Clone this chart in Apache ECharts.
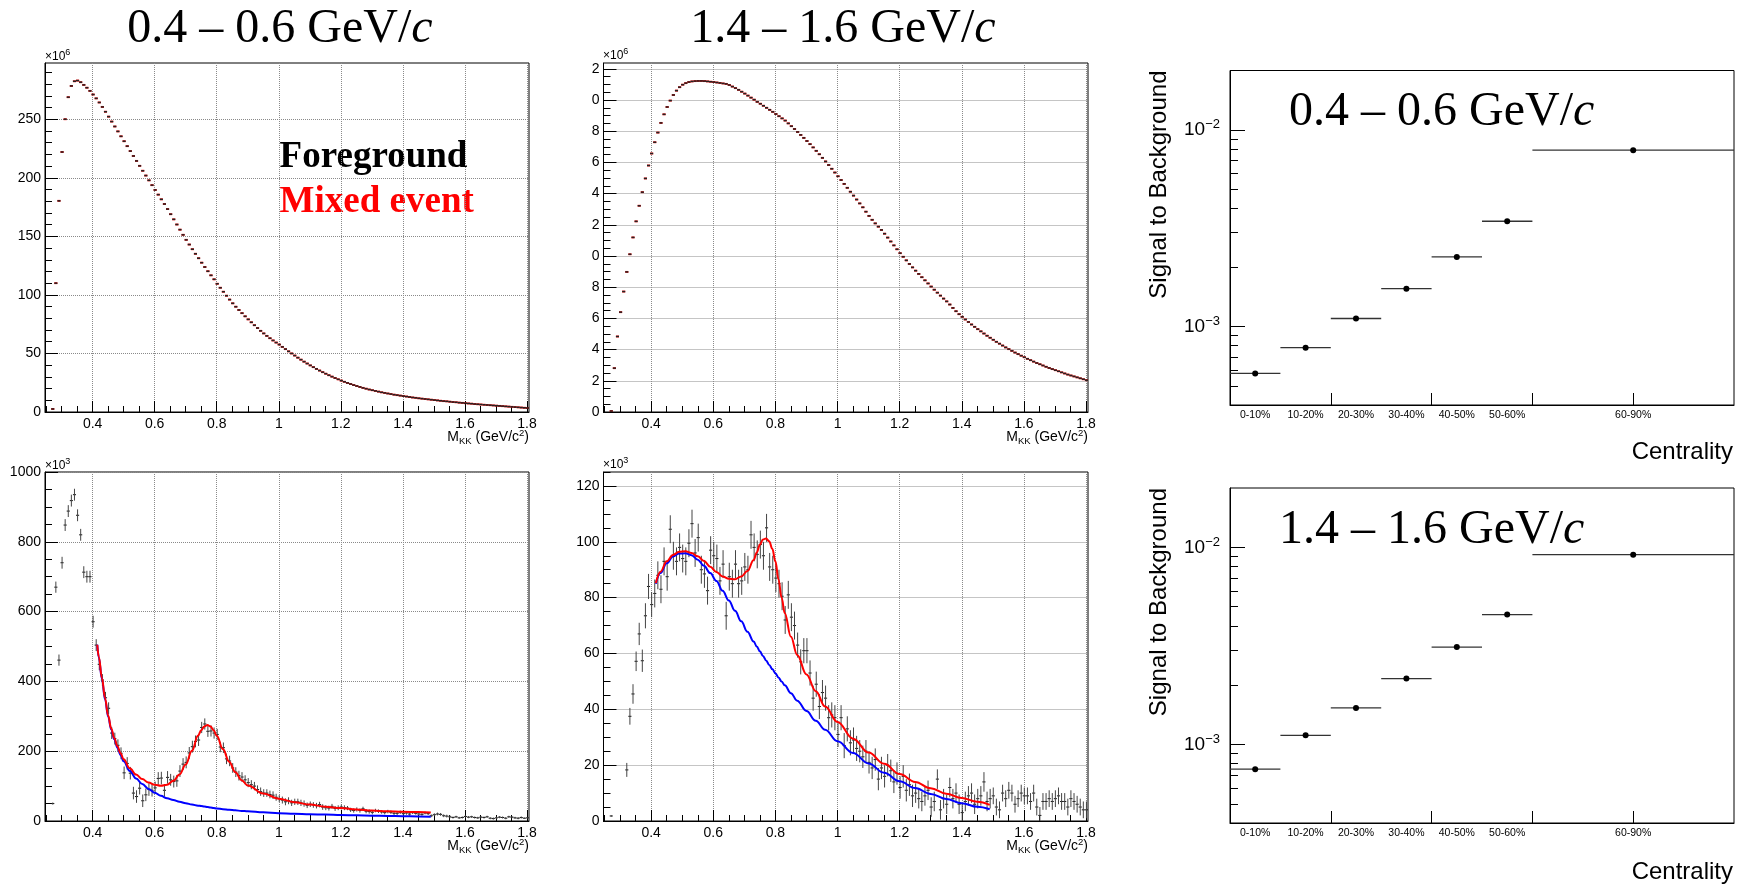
<!DOCTYPE html>
<html>
<head>
<meta charset="utf-8">
<title>KK invariant mass and signal to background</title>
<script src="https://cdn.jsdelivr.net/npm/echarts@6/dist/echarts.min.js"></script>
<style>
  html, body { margin: 0; padding: 0; background: #fff; }
  #chart { width: 1744px; height: 888px; }
</style>
</head>
<body>
<div id="chart"></div>
<script>
// histogram binning of M_KK (GeV/c^2): 156 bins of 0.01 starting at 0.2465
const BIN_LO = 0.2465;
const BIN_W = 0.01;
const N_BINS = 156;

// foreground, 0.4-0.6 GeV/c (x10^6)
const fgLowPt = [
  null, null, 2.6, 110, 180.3, 222, 250, 268.8, 278.4, 282.4,
  283, 281.6, 279.3, 276.9, 274.2, 271.1, 267.8, 264.3, 260.5, 256.4,
  252.2, 248.0, 243.8, 239.6, 235.4, 231.2, 227.0, 222.8, 218.6, 214.4,
  210.2, 206.0, 201.9, 197.8, 193.7, 189.6, 185.6, 181.6, 177.6, 173.3,
  168.9, 164.5, 160.1, 155.7, 151.3, 147.0, 143.0, 139.0, 135.1, 131.3,
  127.5, 123.8, 120.2, 116.7, 113.3, 109.5, 106.1, 102.7, 99.3, 96.0,
  92.8, 89.9, 87.1, 84.4, 81.7, 79.1, 76.6, 74.1, 71.7, 69.3,
  67.1, 65.0, 63.0, 61.1, 59.3, 57.6, 55.6, 53.7, 51.8, 50.0,
  48.2, 46.4, 44.7, 43.0, 41.4, 39.8, 38.3, 36.8, 35.4, 34.0,
  32.7, 31.4, 30.2, 29.0, 27.9, 26.8, 25.8, 24.8, 23.9, 23.0,
  22.2, 21.4, 20.6, 19.9, 19.2, 18.6, 18.0, 17.4, 16.8, 16.3,
  15.8, 15.3, 14.8, 14.4, 14.0, 13.6, 13.2, 12.8, 12.4, 12.1,
  11.7, 11.4, 11.1, 10.8, 10.5, 10.2, 9.9, 9.6, 9.3, 9.1,
  8.8, 8.5, 8.3, 8.0, 7.8, 7.5, 7.3, 7.1, 6.8, 6.6,
  6.4, 6.2, 6.0, 5.8, 5.6, 5.4, 5.2, 5.0, 4.8, 4.6,
  4.4, 4.2, 4.0, 3.8, 3.6, 3.4
];
// foreground, 1.4-1.6 GeV/c (x10^6)
const fgHighPt = [
  null, null, 0.06, 2.81, 4.84, 6.40, 7.72, 8.98, 10.11, 11.19,
  12.22, 13.22, 14.09, 14.97, 15.80, 16.57, 17.29, 17.91, 18.53, 19.08,
  19.55, 19.96, 20.32, 20.60, 20.82, 20.98, 21.08, 21.15, 21.19, 21.21,
  21.22, 21.22, 21.21, 21.19, 21.17, 21.15, 21.12, 21.09, 21.06, 21.03,
  20.96, 20.86, 20.76, 20.65, 20.53, 20.41, 20.28, 20.15, 20.02, 19.88,
  19.76, 19.63, 19.50, 19.37, 19.24, 19.10, 18.96, 18.82, 18.68, 18.50,
  18.32, 18.14, 17.95, 17.76, 17.57, 17.37, 17.17, 16.96, 16.74, 16.52,
  16.29, 16.06, 15.83, 15.59, 15.35, 15.11, 14.87, 14.62, 14.37, 14.12,
  13.87, 13.62, 13.37, 13.12, 12.84, 12.57, 12.32, 12.09, 11.88, 11.67,
  11.43, 11.18, 10.93, 10.68, 10.43, 10.18, 9.95, 9.72, 9.49, 9.27,
  9.06, 8.85, 8.64, 8.44, 8.24, 8.04, 7.84, 7.65, 7.46, 7.27,
  7.09, 6.89, 6.67, 6.46, 6.27, 6.10, 5.93, 5.77, 5.61, 5.46,
  5.31, 5.17, 5.03, 4.89, 4.76, 4.63, 4.50, 4.38, 4.26, 4.14,
  4.03, 3.92, 3.81, 3.71, 3.61, 3.51, 3.41, 3.32, 3.23, 3.14,
  3.06, 2.98, 2.90, 2.82, 2.75, 2.68, 2.61, 2.54, 2.47, 2.40,
  2.34, 2.28, 2.22, 2.16, 2.10, 2.04
];
// normalised mixed event lies on top of the foreground at this scale
const mixLowPt = fgLowPt;
const mixHighPt = fgHighPt;

// foreground - mixed event, 0.4-0.6 GeV/c (x10^3)
const sigLowPt = [
  null, null, 50, 670, 461, 740, 848, 888, 918, 935,
  876, 820, 713, 700, 700, 571, 504, 449, 404, 353,
  323, 252, 236, 217, 194, 138, 165, 137, 80, 70,
  94, 58, 75, 90, 88, 95, 122, 123, 88, 125,
  118, 113, 115, 143, 163, 168, 195, 213, 228, 232,
  268, 278, 257, 258, 252, 248, 212, 210, 178, 172,
  152, 140, 130, 126, 118, 110, 104, 100, 90, 84,
  80, 80, 76, 74, 68, 64, 60, 55, 58, 52,
  55, 55, 52, 50, 45, 48, 46, 44, 47, 40,
  38, 37, 42, 36, 38, 40, 38, 37, 32, 30,
  33, 30, 35, 28, 27, 25, 30, 28, 26, 24,
  27, 25, 22, 22, 25, 21, 23, 20, 24, 22,
  20, 19, 23, 21, 15, 18, 20, 19, 15, 14,
  12, 10, 12, 9, 10, 13, 11, 12, 10, 9,
  11, 10, 12, 8, 7, 9, 11, 10, 8, 12,
  11, 9, 8, 10, 8, 9
];
const sigLowErr = [
  0, 0, 3, 16, 16, 17, 17, 17, 17, 17,
  17, 17, 17, 17, 17, 17, 17, 17, 17, 17,
  17, 17, 17, 17, 17, 18, 18, 18, 18, 18,
  18, 18, 18, 18, 18, 18, 18, 18, 18, 18,
  17, 17, 17, 17, 17, 17, 17, 17, 17, 17,
  16, 16, 16, 16, 16, 16, 15, 15, 15, 15,
  14, 14, 14, 14, 13, 13, 13, 12, 12, 12,
  11, 11, 11, 11, 10, 10, 10, 10, 10, 9,
  9, 9, 9, 9, 8, 8, 8, 8, 8, 8,
  7, 7, 7, 7, 7, 7, 7, 6, 6, 6,
  6, 6, 6, 6, 6, 6, 5, 5, 5, 5,
  5, 5, 5, 5, 5, 5, 5, 5, 4, 4,
  4, 4, 4, 4, 4, 4, 4, 4, 4, 4,
  4, 3, 3, 3, 3, 3, 3, 3, 3, 3,
  3, 3, 3, 3, 3, 3, 3, 3, 3, 3,
  3, 3, 3, 3, 2, 2
];
// foreground - mixed event, 1.4-1.6 GeV/c (x10^3)
const sigHighPt = [
  null, null, 1.8, null, null, null, null, 18.3, 37.5, 45.5,
  57.2, 67, 57.4, 73.5, 84, 77.5, 81.5, 88, 83, 93,
  87.5, 104.5, 95, 93, 98, 94, 93, 99.5, 106.5, 96,
  101.5, 90, 88.5, 82.5, 97, 95, 94, 86, 92, 73.5,
  87.5, 85, 92, 85, 86, 91, 90, 102.5, 98, 95.5,
  99, 95, 105, 91, 90, 87, 85, 80.5, 72, 81,
  73, 70, 63, 57, 61, 61, 53, 44, 49, 41,
  46, 44, 37, 38, 37, 31, 37, 27, 33, 28,
  29, 26, 25, 23, 25, 21, 19, 22, 15, 19,
  16, 20, 18, 14, 17, 12, 16, 11, 13, 9,
  10, 8, 7, 9, 11, 5, 7, 15, 4, 8,
  6, 12, 8, 10, 6, 3, 7, 9, 10, 6,
  8, 9, 14, 7, 8, 9, 5, 4, 10, 8,
  11, 10, 6, 8, 10, 9, 9, 7, 10, 5,
  2, 7, 7, 8, 7, 8, 9, 7, 7, 5,
  8, 7, 6, 5, 4, 4
];
const sigHighErr = [
  0, 0, 0.3, 0, 0, 0, 0, 2.5, 3, 3.5,
  3.5, 4, 4, 4.5, 4.5, 4.5, 5, 5, 5, 5,
  5, 5, 5, 5, 5, 5, 5, 5, 5, 5,
  5, 5, 5, 5, 5, 5, 5, 5, 5, 5,
  5, 5, 5, 5, 5, 5, 5, 5, 5, 5,
  5, 5, 5, 5, 5, 5, 5, 5, 5, 5,
  5, 5, 4.5, 4.5, 4.5, 4.5, 4.5, 4.5, 4.5, 4.5,
  4.5, 4.5, 4.5, 4.5, 4.5, 4.5, 4.5, 4.5, 4.5, 4.5,
  4.5, 4.5, 4, 4, 4, 4, 4, 4, 4, 4,
  4, 4, 4, 4, 4, 4, 4, 4, 4, 4,
  3.5, 3.5, 3.5, 3.5, 3.5, 3.5, 3.5, 3.5, 3.5, 3.5,
  3.5, 3.5, 3.5, 3.5, 3.5, 3.5, 3.5, 3.5, 3.5, 3.5,
  3.5, 3.5, 3.5, 3.5, 3.5, 3, 3, 3, 3, 3,
  3, 3, 3, 3, 3, 3, 3, 3, 3, 3,
  3, 3, 3, 3, 3, 3, 3, 3, 3, 3,
  3, 3, 3, 3, 3, 3
];

// fit curves (total = red, residual background = blue)
const fitXLow = [0.415, 0.42, 0.43, 0.44, 0.45, 0.46, 0.47, 0.48, 0.49, 0.5,
  0.52, 0.54, 0.56, 0.58, 0.6, 0.62, 0.64, 0.66, 0.68, 0.7,
  0.72, 0.74, 0.75, 0.76, 0.77, 0.78, 0.79, 0.8, 0.82, 0.84,
  0.86, 0.88, 0.9, 0.95, 1.0, 1.05, 1.1, 1.15, 1.2, 1.25,
  1.3, 1.35, 1.4, 1.45, 1.49];
const fitTotalLow = [505, 470, 410, 352, 302, 265, 237, 214, 194, 177,
  151, 133, 120, 110, 104, 101, 104, 115, 133, 162,
  201, 245, 260, 271, 275, 271, 260, 244, 206, 170,
  140, 117, 102, 79, 64, 54, 47, 41, 37, 33,
  30, 28, 26.5, 25.5, 24.5];
const fitBkgLow = [505, 468, 407, 349, 299, 262, 234, 210, 189, 171,
  143, 122, 106, 92, 81, 72, 65, 60, 55, 51,
  47, 44, 43, 41.5, 40, 38.5, 37, 36, 34, 32,
  30.5, 29, 28, 25, 22.5, 21, 19.5, 18.3, 17.2, 16.3,
  15.4, 14.6, 13.9, 13.2, 12.5];
const fitXHigh = [0.415, 0.43, 0.45, 0.47, 0.49, 0.51, 0.53, 0.55, 0.57, 0.59,
  0.61, 0.63, 0.65, 0.67, 0.69, 0.71, 0.73, 0.74, 0.75, 0.76,
  0.77, 0.78, 0.79, 0.8, 0.81, 0.82, 0.83, 0.85, 0.87, 0.9,
  0.93, 0.96, 1.0, 1.05, 1.1, 1.15, 1.2, 1.25, 1.3, 1.35,
  1.4, 1.45, 1.49];
const fitTotalHigh = [85.2, 89.3, 93.0, 95.3, 96.4, 96.6, 96.0, 94.8, 93.1, 91.1,
  89.2, 87.6, 86.8, 86.6, 87.6, 89.5, 93.5, 96.2, 99.0, 100.8,
  101.2, 100.2, 97.5, 93.0, 86.5, 80.0, 74.5, 66.0, 59.5, 52.5,
  46.5, 41.0, 35.5, 29.5, 24.5, 20.5, 16.8, 14.0, 11.7, 9.8,
  8.2, 6.9, 5.8];
const fitBkgHigh = [85.0, 88.8, 92.3, 94.7, 95.8, 95.9, 95.2, 93.6, 91.4, 88.8,
  86.0, 82.5, 79.0, 75.3, 71.5, 67.8, 64.3, 62.5, 60.8, 59.1,
  57.5, 55.9, 54.4, 52.9, 51.4, 50.0, 48.6, 45.8, 43.1, 39.4,
  35.9, 32.7, 28.6, 24.4, 20.6, 17.3, 14.2, 11.8, 9.7, 7.9,
  6.4, 5.1, 4.2];

// signal to background vs centrality
const centralityLabels = ['0-10%', '10-20%', '20-30%', '30-40%', '40-50%', '50-60%', '60-90%'];
const centralityBins = [[0, 1], [1, 2], [2, 3], [3, 4], [4, 5], [5, 6], [6, 10]];
const sbLowPt = [5.79e-4, 7.82e-4, 1.10e-3, 1.56e-3, 2.26e-3, 3.43e-3, 7.88e-3];
const sbHighPt = [7.5e-4, 1.114e-3, 1.534e-3, 2.16e-3, 3.12e-3, 4.56e-3, 9.18e-3];

// tick labels
const massTicks = [0.4, 0.6, 0.8, 1, 1.2, 1.4, 1.6, 1.8];
const fgLowTicks = [0, 50, 100, 150, 200, 250];
const fgHighTicks = [0, 2, 4, 6, 8, 10, 12, 14, 16, 18, 20, 22];
const sigLowTicks = [0, 200, 400, 600, 800, 1000];
const sigHighTicks = [0, 20, 40, 60, 80, 100, 120];
const ratioTicks = [0.001, 0.01];
const ratioMinorTicks = [0.0005, 0.0006, 0.0007, 0.0008, 0.0009,
  0.002, 0.003, 0.004, 0.005, 0.006, 0.007, 0.008, 0.009];

const SANS = 'Liberation Sans';
const SERIF = 'Liberation Serif';
const X_MAX = BIN_LO + N_BINS * BIN_W;

function steps(from, to, step, skip) {
  const out = [];
  for (let k = 0; from + k * step <= to + 1e-9; k++) {
    const v = +(from + k * step).toFixed(4);
    if (!skip.some(s => Math.abs(s - v) < 1e-6)) out.push(v);
  }
  return out;
}

const chart = echarts.init(document.getElementById('chart'));

const grids = [
  { left: 45, top: 63, width: 484, height: 349 },
  { left: 603.5, top: 63, width: 484.5, height: 349 },
  { left: 45, top: 472, width: 484, height: 349 },
  { left: 603.5, top: 472, width: 484.5, height: 349 },
  { left: 1230, top: 70.5, width: 504, height: 334.5 },
  { left: 1230, top: 488, width: 504, height: 335 }
].map(g => Object.assign({ show: true, borderColor: '#000', borderWidth: 1 }, g));

function massAxes(grid) {
  return [{
    type: 'value', gridIndex: grid, min: BIN_LO, max: X_MAX, position: 'bottom',
    axisLine: { show: true, lineStyle: { color: '#000' } },
    axisTick: { inside: true, length: 11, customValues: massTicks, lineStyle: { color: '#000' } },
    axisLabel: { customValues: massTicks, fontSize: 14, color: '#000', fontFamily: SANS, margin: 5 },
    splitLine: { show: true, lineStyle: { type: 'dotted', color: '#8a8a8a' } }
  }, {
    type: 'value', gridIndex: grid, min: BIN_LO, max: X_MAX, position: 'bottom',
    axisLine: { show: false },
    axisTick: { inside: true, length: 6, customValues: steps(0.25, 1.8, 0.05, massTicks), lineStyle: { color: '#000' } },
    axisLabel: { show: false },
    splitLine: { show: false }
  }];
}

function countAxes(grid, max, ticks, minorStep, fmt) {
  return [{
    type: 'value', gridIndex: grid, min: 0, max: max, position: 'left',
    axisLine: { show: true, lineStyle: { color: '#000' } },
    axisTick: { inside: true, length: 13, customValues: ticks, lineStyle: { color: '#000' } },
    axisLabel: { customValues: ticks, fontSize: 14, color: '#000', fontFamily: SANS, margin: 4,
      formatter: fmt || (v => String(v)) },
    splitLine: { show: true, lineStyle: { type: 'dotted', color: '#8a8a8a' } }
  }, {
    type: 'value', gridIndex: grid, min: 0, max: max, position: 'left',
    axisLine: { show: false },
    axisTick: { inside: true, length: 7, customValues: steps(minorStep, max, minorStep, ticks), lineStyle: { color: '#000' } },
    axisLabel: { show: false },
    splitLine: { show: false }
  }];
}

function centralityAxis(grid) {
  const centers = centralityBins.map(b => (b[0] + b[1]) / 2);
  return {
    type: 'value', gridIndex: grid, min: 0, max: 10, position: 'bottom',
    axisLine: { show: true, lineStyle: { color: '#000' } },
    axisTick: { inside: true, length: 12, customValues: [2, 4, 6, 8], lineStyle: { color: '#000' } },
    axisLabel: {
      customValues: centers, fontSize: 10.5, color: '#000', fontFamily: SANS, margin: 5,
      formatter: v => centralityLabels[centers.indexOf(v)]
    },
    splitLine: { show: false }
  };
}

function ratioAxes(grid) {
  return [{
    type: 'log', logBase: 10, gridIndex: grid, min: 0.0004, max: 0.02, position: 'left',
    axisLine: { show: true, lineStyle: { color: '#000' } },
    axisTick: { inside: true, length: 15, customValues: ratioTicks, lineStyle: { color: '#000' } },
    axisLabel: {
      customValues: ratioTicks, fontSize: 19, color: '#000', fontFamily: SANS, margin: 10,
      formatter: v => '10{sup|−' + Math.round(-Math.log10(v)) + '}',
      rich: { sup: { fontSize: 13, fontFamily: SANS, color: '#000', padding: [0, 0, 10, 0] } }
    },
    splitLine: { show: false }
  }, {
    type: 'log', logBase: 10, gridIndex: grid, min: 0.0004, max: 0.02, position: 'left',
    axisLine: { show: false },
    axisTick: { inside: true, length: 8, customValues: ratioMinorTicks, lineStyle: { color: '#000' } },
    axisLabel: { show: false },
    splitLine: { show: false }
  }];
}

function histData(vals) {
  const out = [];
  vals.forEach((v, i) => { if (v != null) out.push([BIN_LO + (i + 0.5) * BIN_W, v]); });
  return out;
}

function errData(vals, errs) {
  const out = [];
  vals.forEach((v, i) => { if (v != null) out.push([BIN_LO + (i + 0.5) * BIN_W, v, errs[i]]); });
  return out;
}

function dashSeries(axis, vals, color, width) {
  return {
    type: 'custom', xAxisIndex: axis, yAxisIndex: axis, clip: true, silent: true,
    data: histData(vals),
    renderItem: (params, api) => {
      const x = api.value(0), y = api.value(1);
      const a = api.coord([x - BIN_W / 2, y]);
      const b = api.coord([x + BIN_W / 2, y]);
      return { type: 'line', shape: { x1: a[0], y1: a[1], x2: b[0], y2: b[1] },
        style: { stroke: color, lineWidth: width } };
    }
  };
}

function pointSeries(axis, vals, errs) {
  return {
    type: 'custom', xAxisIndex: axis, yAxisIndex: axis, clip: true, silent: true,
    data: errData(vals, errs),
    renderItem: (params, api) => {
      const x = api.value(0), y = api.value(1), e = api.value(2);
      const l = api.coord([x - BIN_W / 2, y]), r = api.coord([x + BIN_W / 2, y]);
      const lo = api.coord([x, y - e]), hi = api.coord([x, y + e]);
      return { type: 'group', children: [
        { type: 'line', shape: { x1: l[0], y1: l[1], x2: r[0], y2: r[1] }, style: { stroke: '#111', lineWidth: 1 } },
        { type: 'line', shape: { x1: lo[0], y1: lo[1], x2: hi[0], y2: hi[1] }, style: { stroke: '#444', lineWidth: 1 } }
      ] };
    }
  };
}

function fitSeries(axis, xs, ys, color) {
  return {
    type: 'line', xAxisIndex: axis, yAxisIndex: axis, silent: true,
    data: xs.map((x, i) => [x, ys[i]]),
    smooth: 0.4, smoothMonotone: 'x', showSymbol: false, symbol: 'none',
    lineStyle: { color: color, width: 2 }, z: 3
  };
}

function ratioSeries(xAxis, yAxis, vals) {
  return {
    type: 'custom', xAxisIndex: xAxis, yAxisIndex: yAxis, silent: true,
    encode: { x: [0, 1], y: 2 },
    data: vals.map((v, i) => [centralityBins[i][0], centralityBins[i][1], v]),
    renderItem: (params, api) => {
      const x0 = api.value(0), x1 = api.value(1), y = api.value(2);
      const a = api.coord([x0, y]), b = api.coord([x1, y]), c = api.coord([(x0 + x1) / 2, y]);
      return { type: 'group', children: [
        { type: 'line', shape: { x1: a[0], y1: a[1], x2: b[0], y2: b[1] }, style: { stroke: '#333', lineWidth: 1.3 } },
        { type: 'circle', shape: { cx: c[0], cy: c[1], r: 3 }, style: { fill: '#000' } }
      ] };
    }
  };
}

function text(x, y, str, opts) {
  return {
    type: 'text', x: x, y: y, rotation: opts.rotation || 0, silent: true,
    style: Object.assign({
      text: str, fill: '#000', fontFamily: SANS, fontSize: 14,
      textAlign: 'left', textVerticalAlign: 'middle'
    }, opts.style)
  };
}

const serifTitle = { fontFamily: SERIF, fontSize: 48,
  rich: { i: { fontFamily: SERIF, fontSize: 48, fontStyle: 'italic' } } };
const expRich = { sup: { fontSize: 9, fontFamily: SANS, padding: [0, 0, 8, 0] } };
const massRich = {
  sub: { fontSize: 9.5, fontFamily: SANS, padding: [8, 0, 0, 0] },
  sup: { fontSize: 9.5, fontFamily: SANS, padding: [0, 0, 8, 0] }
};
const massName = 'M{sub|KK} (GeV/c{sup|2})';

const option = {
  animation: false,
  backgroundColor: '#fff',
  textStyle: { fontFamily: SANS },
  grid: grids,
  xAxis: [
    ...massAxes(0), ...massAxes(1), ...massAxes(2), ...massAxes(3),
    centralityAxis(4), centralityAxis(5)
  ],
  yAxis: [
    ...countAxes(0, 298, fgLowTicks, 10),
    ...countAxes(1, 22.37, fgHighTicks, 0.5, v => String(v).slice(-1)),
    ...countAxes(2, 1000, sigLowTicks, 50),
    ...countAxes(3, 125, sigHighTicks, 5),
    ...ratioAxes(4), ...ratioAxes(5)
  ],
  series: [
    dashSeries(0, mixLowPt, '#ff0000', 1.9),
    dashSeries(0, fgLowPt, '#222', 1.5),
    dashSeries(2, mixHighPt, '#ff0000', 1.9),
    dashSeries(2, fgHighPt, '#222', 1.5),
    pointSeries(4, sigLowPt, sigLowErr),
    fitSeries(4, fitXLow, fitBkgLow, '#0000ff'),
    fitSeries(4, fitXLow, fitTotalLow, '#ff0000'),
    pointSeries(6, sigHighPt, sigHighErr),
    fitSeries(6, fitXHigh, fitBkgHigh, '#0000ff'),
    fitSeries(6, fitXHigh, fitTotalHigh, '#ff0000'),
    ratioSeries(8, 8, sbLowPt),
    ratioSeries(9, 10, sbHighPt)
  ],
  graphic: [
    text(280, 29, '0.4 – 0.6 GeV/{i|c}', { style: Object.assign({ textAlign: 'center' }, serifTitle) }),
    text(843, 29, '1.4 – 1.6 GeV/{i|c}', { style: Object.assign({ textAlign: 'center' }, serifTitle) }),
    text(1289, 112, '0.4 – 0.6 GeV/{i|c}', { style: serifTitle }),
    text(1279, 530, '1.4 – 1.6 GeV/{i|c}', { style: serifTitle }),
    text(279.6, 157.5, 'Foreground', { style: { fontFamily: SERIF, fontSize: 37, fontWeight: 'bold' } }),
    text(279.6, 202, 'Mixed event', { style: { fontFamily: SERIF, fontSize: 37, fontWeight: 'bold', fill: '#ff0000' } }),
    text(45, 57, '×10{sup|6}', { style: { fontSize: 12, rich: expRich } }),
    text(603, 56, '×10{sup|6}', { style: { fontSize: 12, rich: expRich } }),
    text(45, 466, '×10{sup|3}', { style: { fontSize: 12, rich: expRich } }),
    text(603, 465, '×10{sup|3}', { style: { fontSize: 12, rich: expRich } }),
    text(529, 437, massName, { style: { textAlign: 'right', rich: massRich } }),
    text(1088, 437, massName, { style: { textAlign: 'right', rich: massRich } }),
    text(529, 846, massName, { style: { textAlign: 'right', rich: massRich } }),
    text(1088, 846, massName, { style: { textAlign: 'right', rich: massRich } }),
    text(1159, 70.5, 'Signal to Background', { rotation: Math.PI / 2, style: { fontSize: 24, textAlign: 'right' } }),
    text(1159, 488, 'Signal to Background', { rotation: Math.PI / 2, style: { fontSize: 24, textAlign: 'right' } }),
    text(1733, 452, 'Centrality', { style: { fontSize: 24, textAlign: 'right' } }),
    text(1733, 872, 'Centrality', { style: { fontSize: 24, textAlign: 'right' } })
  ]
};

chart.setOption(option);
</script>
</body>
</html>
